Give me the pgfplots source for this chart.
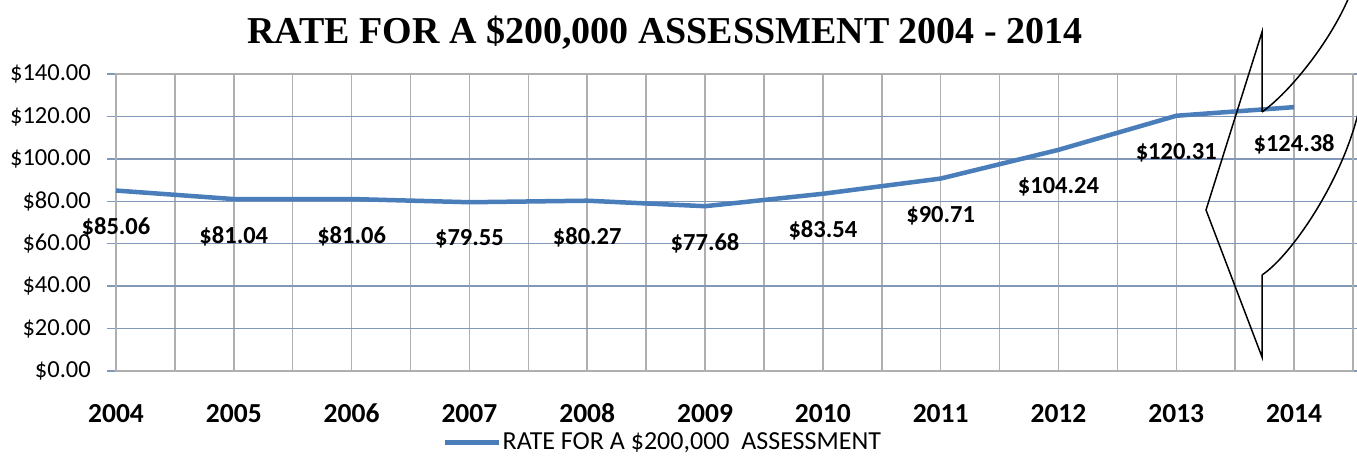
\documentclass[border=0pt]{standalone}
\usepackage{fontspec}
\setmainfont{Carlito}
\newfontfamily\titlefont{Liberation Serif}
\usepackage{pgfplots}
\pgfplotsset{compat=1.18}
\definecolor{series}{RGB}{74,126,187}
\definecolor{hgrid}{RGB}{130,152,185}
\definecolor{vgrid}{RGB}{175,175,175}
\begin{document}
\begin{tikzpicture}
\path[use as bounding box] (0pt,0pt) rectangle (1357pt,457pt);
\begin{axis}[
  at={(116pt,86pt)}, anchor=south west,
  scale only axis, width=1237pt, height=297pt,
  xmin=2004, xmax=2014.5, ymin=0, ymax=140,
  xtick={2004,2005,2006,2007,2008,2009,2010,2011,2012,2013,2014},
  xticklabels={2004,2005,2006,2007,2008,2009,2010,2011,2012,2013,2014},
  minor xtick={2004.5,2005.5,2006.5,2007.5,2008.5,2009.5,2010.5,2011.5,2012.5,2013.5,2014.5},
  ytick={0,20,40,60,80,100,120,140},
  yticklabels={\$0.00,\$20.00,\$40.00,\$60.00,\$80.00,\$100.00,\$120.00,\$140.00},
  xmajorgrids, xminorgrids, ymajorgrids,
  grid style={vgrid, line width=1.5pt},
  minor grid style={vgrid, line width=1.5pt},
  y grid style={hgrid, line width=1.5pt},
  axis line style={vgrid, line width=1.5pt},
  tick align=outside,
  major tick length=9pt, minor tick length=0pt,
  xtick style={draw=none},
  ytick style={hgrid, line width=1.5pt},
  xticklabel style={font=\bfseries\fontsize{27.5}{27.5}\selectfont, anchor=base, inner sep=0pt, yshift=-43pt},
  yticklabel style={font=\fontsize{24.5}{24.5}\selectfont, anchor=east, inner sep=0pt, xshift=-16pt},
  /pgf/number format/assume math mode=true,
  nodes near coords={\$\pgfmathprintnumber[fixed,fixed zerofill,precision=2]{\pgfplotspointmeta}},
  every node near coord/.append style={anchor=center, yshift=-37pt, inner sep=0pt, text=black, font=\bfseries\fontsize{24.5}{24.5}\selectfont},
  legend image code/.code={\draw[#1, line width=4.5pt] (0pt,0pt) -- (54pt,0pt);},
  legend style={at={(0.2643,-0.240)}, anchor=west, draw=none, fill=none, inner sep=0pt,
    font=\fontsize{26}{26}\selectfont, nodes={inner sep=1pt},
    /tikz/every even column/.append style={column sep=0pt}},
]
\addplot[series, line width=4.5pt, line join=round] coordinates {
  (2004,85.06) (2005,81.04) (2006,81.06) (2007,79.55) (2008,80.27) (2009,77.68)
  (2010,83.54) (2011,90.71) (2012,104.24) (2013,120.31) (2014,124.38)
};
\addlegendentry{RATE FOR A \$200,000\ \ ASSESSMENT}
\end{axis}
\node[anchor=base, font=\titlefont\bfseries\fontsize{38}{38}\selectfont, inner sep=0pt] at (665pt,413pt) {RATE FOR A \$200,000 ASSESSMENT 2004 - 2014};
\draw[black, line width=1.5pt, line join=miter]
  (1262pt,345pt) -- (1262pt,425pt) -- (1206pt,247pt) -- (1262pt,100pt) -- (1262pt,182pt);
\draw[black, line width=1.5pt]
  (1262pt,345pt) .. controls (1290pt,365pt) and (1330pt,415pt) .. (1349pt,460pt);
\draw[black, line width=1.5pt]
  (1262pt,182pt) .. controls (1292pt,202pt) and (1345pt,280pt) .. (1360pt,352pt);
\end{tikzpicture}
\end{document}
